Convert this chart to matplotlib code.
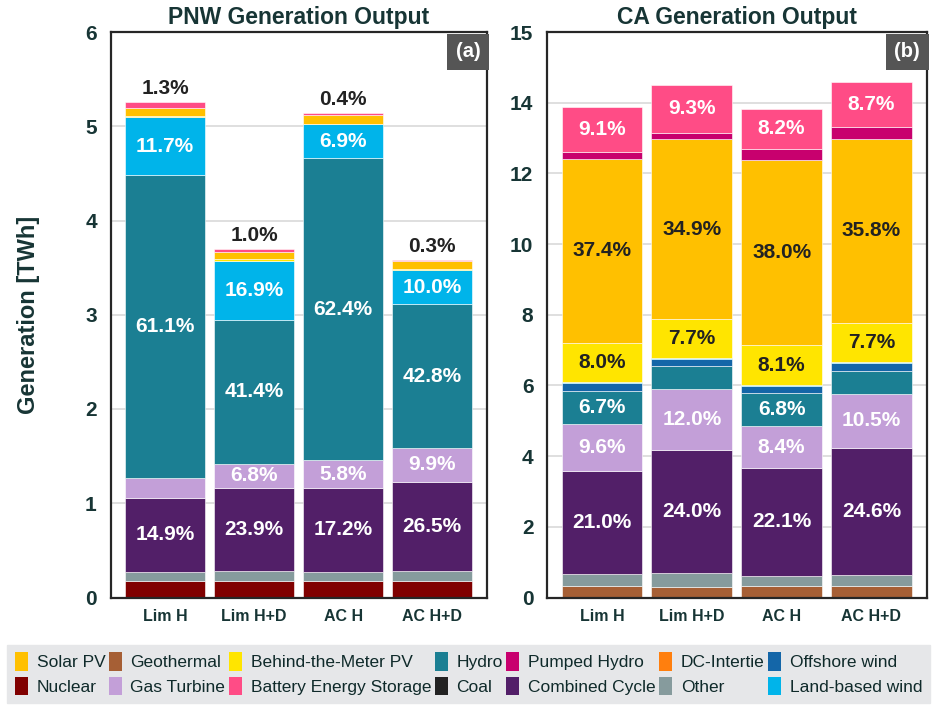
import matplotlib
matplotlib.use("Agg")
import matplotlib.pyplot as plt
from matplotlib.patches import Patch
from matplotlib import font_manager as fm
import numpy as np

# ---------------- data ----------------
categories = ["Lim H", "Lim H+D", "AC H", "AC H+D"]

techs = ["Nuclear", "Geothermal", "Other", "Combined Cycle", "Gas Turbine", "Coal",
         "Hydro", "DC-Intertie", "Offshore wind", "Land-based wind",
         "Behind-the-Meter PV", "Solar PV", "Pumped Hydro", "Battery Energy Storage"]

colors = {
    "Solar PV": "#FFC000", "Geothermal": "#A65F35", "Behind-the-Meter PV": "#FFE500",
    "Hydro": "#1B7F93", "Pumped Hydro": "#C8006E", "DC-Intertie": "#FF7F0E",
    "Offshore wind": "#1466A8", "Nuclear": "#800000", "Gas Turbine": "#C39FD8",
    "Battery Energy Storage": "#FF4C86", "Coal": "#222222", "Combined Cycle": "#521F68",
    "Other": "#869B9D", "Land-based wind": "#00B4EA",
}

# PNW generation [TWh]
pnw_nuclear = [0.18, 0.18, 0.18, 0.18]
pnw_geothermal = [0.0, 0.0, 0.0, 0.0]
pnw_other = [0.095, 0.10, 0.095, 0.10]
pnw_cc = [0.785, 0.884, 0.884, 0.949]
pnw_gt = [0.205, 0.252, 0.298, 0.354]
pnw_coal = [0.0, 0.0, 0.0, 0.0]
pnw_hydro = [3.215, 1.532, 3.207, 1.532]
pnw_dc = [0.0, 0.0, 0.0, 0.0]
pnw_offshore = [0.0, 0.0, 0.0, 0.0]
pnw_landwind = [0.615, 0.625, 0.355, 0.358]
pnw_btm = [0.01, 0.015, 0.01, 0.016]
pnw_solar = [0.085, 0.075, 0.09, 0.08]
pnw_ph = [0.0, 0.0, 0.0, 0.0]
pnw_battery = [0.068, 0.037, 0.02, 0.011]

# CA generation [TWh]
ca_nuclear = [0.0, 0.0, 0.0, 0.0]
ca_geothermal = [0.33, 0.30, 0.33, 0.32]
ca_other = [0.33, 0.39, 0.28, 0.31]
ca_cc = [2.92, 3.47, 3.06, 3.60]
ca_gt = [1.34, 1.74, 1.17, 1.53]
ca_coal = [0.0, 0.0, 0.0, 0.0]
ca_hydro = [0.93, 0.65, 0.94, 0.64]
ca_dc = [0.0, 0.0, 0.0, 0.0]
ca_offshore = [0.22, 0.20, 0.20, 0.23]
ca_landwind = [0.02, 0.02, 0.03, 0.03]
ca_btm = [1.11, 1.12, 1.12, 1.11]
ca_solar = [5.21, 5.07, 5.26, 5.20]
ca_ph = [0.20, 0.19, 0.30, 0.33]
ca_battery = [1.27, 1.35, 1.14, 1.28]

# percentage labels shown on the chart
pnw_lbl_battery = ["1.3%", "1.0%", "0.4%", "0.3%"]
pnw_lbl_landwind = ["11.7%", "16.9%", "6.9%", "10.0%"]
pnw_lbl_hydro = ["61.1%", "41.4%", "62.4%", "42.8%"]
pnw_lbl_gt = ["", "6.8%", "5.8%", "9.9%"]
pnw_lbl_cc = ["14.9%", "23.9%", "17.2%", "26.5%"]

ca_lbl_battery = ["9.1%", "9.3%", "8.2%", "8.7%"]
ca_lbl_solar = ["37.4%", "34.9%", "38.0%", "35.8%"]
ca_lbl_btm = ["8.0%", "7.7%", "8.1%", "7.7%"]
ca_lbl_hydro = ["6.7%", "", "6.8%", ""]
ca_lbl_gt = ["9.6%", "12.0%", "8.4%", "10.5%"]
ca_lbl_cc = ["21.0%", "24.0%", "22.1%", "24.6%"]

pnw_yticks = [0, 1, 2, 3, 4, 5, 6]
pnw_yticklabels = ["0", "1", "2", "3", "4", "5", "6"]
ca_yticks = [0, 2, 4, 6, 8, 10, 12, 14, 16]
ca_yticklabels = ["0", "2", "4", "6", "8", "10", "12", "14", "15"]

legend_row1 = ["Solar PV", "Geothermal", "Behind-the-Meter PV", "Hydro", "Pumped Hydro",
               "DC-Intertie", "Offshore wind"]
legend_row2 = ["Nuclear", "Gas Turbine", "Battery Energy Storage", "Coal", "Combined Cycle",
               "Other", "Land-based wind"]

pnw = dict(zip(techs, [pnw_nuclear, pnw_geothermal, pnw_other, pnw_cc, pnw_gt, pnw_coal,
                       pnw_hydro, pnw_dc, pnw_offshore, pnw_landwind, pnw_btm, pnw_solar,
                       pnw_ph, pnw_battery]))
ca = dict(zip(techs, [ca_nuclear, ca_geothermal, ca_other, ca_cc, ca_gt, ca_coal,
                      ca_hydro, ca_dc, ca_offshore, ca_landwind, ca_btm, ca_solar,
                      ca_ph, ca_battery]))

# ---------------- style ----------------
names = {f.name for f in fm.fontManager.ttflist}
main_font = "Liberation Sans" if "Liberation Sans" in names else "DejaVu Sans"
leg_font = "Liberation Sans Narrow" if "Liberation Sans Narrow" in names else main_font
plt.rcParams["font.family"] = [main_font, "DejaVu Sans"]

TXT = "#173535"
DARK = "#222222"
PCT = 15

fig = plt.figure(figsize=(9.33, 7.06), dpi=100)
ax1 = fig.add_axes([110.7 / 933, 1 - 597.5 / 706, 376.6 / 933, 565.5 / 706])
ax2 = fig.add_axes([547.3 / 933, 1 - 597.5 / 706, 379.7 / 933, 565.5 / 706])

x = np.arange(len(categories))
width = 0.9


def draw(ax, data, ylim, yticks, yticklabels, title, tag):
    bottoms = np.zeros(len(categories))
    segs = {}
    for t in techs:
        vals = np.array(data[t], dtype=float)
        if vals.sum() > 0:
            ax.bar(x, vals, width, bottom=bottoms, color=colors[t], edgecolor="white",
                   linewidth=0.4, zorder=3)
        segs[t] = (bottoms.copy(), bottoms + vals)
        bottoms = bottoms + vals
    ax.set_xlim(-0.61, 3.62)
    ax.set_ylim(*ylim)
    ax.set_yticks(yticks)
    ax.set_yticklabels(yticklabels, fontsize=15, fontweight="bold", color=TXT)
    ax.set_xticks(x)
    ax.set_xticklabels(categories, fontsize=11.5, fontweight="bold", color=TXT)
    ax.tick_params(axis="both", length=0)
    ax.tick_params(axis="y", pad=10)
    ax.tick_params(axis="x", pad=8)
    ax.yaxis.grid(True, color="#D9D9D9", linewidth=1.2, zorder=0)
    ax.set_axisbelow(True)
    for s in ax.spines.values():
        s.set_color("#262626")
        s.set_linewidth(1.6)
        s.set_zorder(5)
    ax.set_title(title, fontsize=16.5, fontweight="bold", color=TXT, pad=6)
    ax.text(0.982, 0.982, tag, transform=ax.transAxes, ha="right", va="top",
            fontsize=14.5, color="white", fontweight="bold",
            bbox=dict(boxstyle="square,pad=0.42", facecolor="#555555", edgecolor="none"),
            zorder=6)
    return segs


def label(ax, segs, tech, labels, color):
    lo, hi = segs[tech]
    for i, lab in enumerate(labels):
        if lab:
            ax.text(x[i], (lo[i] + hi[i]) / 2, lab, ha="center", va="center",
                    fontsize=PCT, fontweight="bold", color=color, zorder=4)


s1 = draw(ax1, pnw, (0, 6), pnw_yticks, pnw_yticklabels, "PNW Generation Output", "(a)")
label(ax1, s1, "Land-based wind", pnw_lbl_landwind, "white")
label(ax1, s1, "Hydro", pnw_lbl_hydro, "white")
label(ax1, s1, "Gas Turbine", pnw_lbl_gt, "white")
label(ax1, s1, "Combined Cycle", pnw_lbl_cc, "white")
top = s1["Battery Energy Storage"][1]
for i, lab in enumerate(pnw_lbl_battery):
    ax1.annotate(lab, (x[i], top[i]), xytext=(0, 3), textcoords="offset points",
                 ha="center", va="bottom", fontsize=PCT, fontweight="bold",
                 color=DARK, zorder=4)

s2 = draw(ax2, ca, (0, 16), ca_yticks, ca_yticklabels, "CA Generation Output", "(b)")
label(ax2, s2, "Battery Energy Storage", ca_lbl_battery, "white")
label(ax2, s2, "Solar PV", ca_lbl_solar, DARK)
label(ax2, s2, "Behind-the-Meter PV", ca_lbl_btm, DARK)
label(ax2, s2, "Hydro", ca_lbl_hydro, "white")
label(ax2, s2, "Gas Turbine", ca_lbl_gt, "white")
label(ax2, s2, "Combined Cycle", ca_lbl_cc, "white")
ax2.yaxis.get_gridlines()[-1].set_visible(False)
ax1.yaxis.get_gridlines()[-1].set_visible(False)

ax1.set_ylabel("Generation [TWh]", fontsize=17, fontweight="bold", color=TXT)
ax1.yaxis.set_label_coords(-(110.7 - 40) / 376.6, 0.5)

# ---------------- legend ----------------
order = []
for a, b in zip(legend_row1, legend_row2):
    order += [a, b]
handles = [Patch(facecolor=colors[n], edgecolor="none") for n in order]
leg = fig.legend(handles, order, ncol=7, loc="lower left",
                 bbox_to_anchor=(7 / 933, 3 / 706, 923 / 933, 56 / 706), mode="expand",
                 frameon=True, fancybox=False, facecolor="#E6E7E9", edgecolor="#E6E7E9",
                 framealpha=1, borderaxespad=0, handlelength=0.75, handleheight=1.25,
                 handletextpad=0.5, columnspacing=0.4, labelspacing=0.35,
                 borderpad=0.45,
                 prop={"family": [leg_font, "DejaVu Sans"], "size": 12.5})
for t in leg.get_texts():
    t.set_color("#0F2A2A")

fig.savefig("out.png", dpi=100)
